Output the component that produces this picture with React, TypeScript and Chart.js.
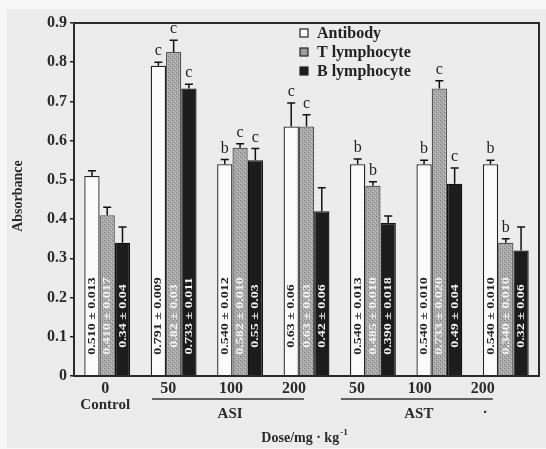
import React, { useEffect, useRef } from "react";
import { Chart, registerables } from "chart.js";
Chart.register(...registerables);

const categories = ["0", "50", "100", "200", "50", "100", "200"];
const seriesNames = ["Antibody", "T lymphocyte", "B lymphocyte"];
const antibody = [0.51, 0.791, 0.54, 0.636, 0.54, 0.54, 0.54];
const tCell = [0.41, 0.826, 0.582, 0.636, 0.485, 0.733, 0.34];
const bCell = [0.34, 0.733, 0.55, 0.42, 0.39, 0.49, 0.32];
const antibodyErr = [0.013, 0.009, 0.012, 0.06, 0.013, 0.01, 0.01];
const tCellErr = [0.02, 0.03, 0.01, 0.03, 0.01, 0.02, 0.01];
const bCellErr = [0.04, 0.011, 0.03, 0.06, 0.018, 0.04, 0.06];
const antibodyLabels = ["0.510 ± 0.013", "0.791 ± 0.009", "0.540 ± 0.012", "0.63 ± 0.06", "0.540 ± 0.013", "0.540 ± 0.010", "0.540 ± 0.010"];
const tCellLabels = ["0.410 ± 0.017", "0.82 ± 0.03", "0.582 ± 0.010", "0.63 ± 0.03", "0.485 ± 0.010", "0.733 ± 0.020", "0.340 ± 0.010"];
const bCellLabels = ["0.34 ± 0.04", "0.733 ± 0.011", "0.55 ± 0.03", "0.42 ± 0.06", "0.390 ± 0.018", "0.49 ± 0.04", "0.32 ± 0.06"];
const antibodyLetters = ["", "c", "b", "c", "b", "b", "b"];
const tCellLetters = ["", "c", "c", "c", "b", "c", "b"];
const bCellLetters = ["", "c", "c", "", "", "c", ""];
const groupLabels = [
  { text: "Control", from: 0, to: 0, line: false },
  { text: "ASI", from: 1, to: 3, line: true },
  { text: "AST", from: 4, to: 6, line: true },
];
const yTitle = "Absorbance";
const xTitle = "Dose/mg · kg";
const xTitleSup = "-1";

const values = [antibody, tCell, bCell];
const errors = [antibodyErr, tCellErr, bCellErr];
const barLabels = [antibodyLabels, tCellLabels, bCellLabels];
const letters = [antibodyLetters, tCellLetters, bCellLetters];

const SERIF = '"Liberation Serif", "DejaVu Serif", serif';

function makePattern(): CanvasPattern | string {
  const c = document.createElement("canvas");
  c.width = 4;
  c.height = 4;
  const g = c.getContext("2d");
  if (!g) return "#a0a0a0";
  g.fillStyle = "#a9a9a9";
  g.fillRect(0, 0, 4, 4);
  g.fillStyle = "#7c7c7c";
  g.fillRect(0, 0, 1, 1);
  g.fillRect(2, 2, 1, 1);
  g.fillStyle = "#c4c4c4";
  g.fillRect(1, 3, 1, 1);
  g.fillRect(3, 1, 1, 1);
  const p = g.createPattern(c, "repeat");
  return p || "#a0a0a0";
}

const fills = ["#fbfbfb", "", "#1c1c1c"];
const borders = ["#222", "#555", "#111"];
const textColors = ["#222", "#f4f4f4", "#f4f4f4"];

const customPlugin = {
  id: "custom",
  beforeDraw(chart: any) {
    const ctx = chart.ctx;
    ctx.save();
    ctx.fillStyle = "#f7f7f7";
    ctx.fillRect(0, 0, chart.width, chart.height);
    ctx.fillStyle = "#ececec";
    ctx.fillRect(7, 9, chart.width - 7, chart.height - 10);
    ctx.restore();
  },
  afterDatasetsDraw(chart: any) {
    const ctx = chart.ctx;
    const a = chart.chartArea;
    const x = chart.scales.x;
    const y = chart.scales.y;
    ctx.save();
    values.forEach((vals, di) => {
      const meta = chart.getDatasetMeta(di);
      meta.data.forEach((el: any, i: number) => {
        const v = vals[i];
        const e = errors[di][i];
        const xp = el.x;
        const yv = y.getPixelForValue(v);
        const yt = y.getPixelForValue(v + e);
        ctx.strokeStyle = "#111";
        ctx.lineWidth = 1.5;
        ctx.beginPath();
        ctx.moveTo(xp, yv);
        ctx.lineTo(xp, yt);
        ctx.moveTo(xp - 4, yt);
        ctx.lineTo(xp + 4, yt);
        ctx.stroke();
        const L = letters[di][i];
        if (L) {
          ctx.fillStyle = "#222";
          ctx.font = `16px ${SERIF}`;
          ctx.textAlign = "center";
          ctx.textBaseline = "bottom";
          ctx.fillText(L, xp, yt - 3);
        }
        const s = barLabels[di][i];
        ctx.save();
        ctx.translate(xp + 0.5, a.bottom - 60);
        ctx.rotate(-Math.PI / 2);
        ctx.scale(1.4, 1);
        ctx.fillStyle = textColors[di];
        ctx.font = `bold 10px ${SERIF}`;
        ctx.textAlign = "center";
        ctx.textBaseline = "middle";
        ctx.fillText(s, 0, 0);
        ctx.restore();
      });
    });
    ctx.strokeStyle = "#2a2a2a";
    ctx.lineWidth = 2;
    ctx.strokeRect(a.left, a.top, a.right - a.left, a.bottom - a.top);
    const lx = 300;
    const ly = [33, 52, 71];
    seriesNames.forEach((n, i) => {
      ctx.fillStyle = i === 1 ? "#9a9a9a" : fills[i];
      ctx.fillRect(lx, ly[i] - 4, 8, 8);
      ctx.strokeStyle = "#222";
      ctx.lineWidth = 1.2;
      ctx.strokeRect(lx, ly[i] - 4, 8, 8);
      ctx.fillStyle = "#222";
      ctx.font = `bold 16px ${SERIF}`;
      ctx.textAlign = "left";
      ctx.textBaseline = "middle";
      ctx.fillText(n, lx + 17, ly[i] + 1);
    });
    const off = (i: number) => -2 - 3.5 * i;
    ctx.fillStyle = "#2a2a2a";
    ctx.font = `bold 16px ${SERIF}`;
    ctx.textAlign = "center";
    ctx.textBaseline = "middle";
    categories.forEach((c, i) => {
      ctx.fillText(c, x.getPixelForValue(i) + off(i), 389);
    });
    groupLabels.forEach((g) => {
      const x0 = x.getPixelForValue(g.from) + off(g.from);
      const x1 = x.getPixelForValue(g.to) + off(g.to);
      if (g.line) {
        ctx.strokeStyle = "#333";
        ctx.lineWidth = 1.5;
        ctx.beginPath();
        ctx.moveTo(x0 - 16, 399);
        ctx.lineTo(x1 + 10, 399);
        ctx.stroke();
        ctx.fillStyle = "#2a2a2a";
        ctx.font = `bold 15px ${SERIF}`;
        ctx.fillText(g.text, (x0 + x1) / 2 - 1, 414);
      } else {
        ctx.fillStyle = "#2a2a2a";
        ctx.font = `bold 15px ${SERIF}`;
        ctx.fillText(g.text, x0, 405);
      }
    });
    ctx.fillText(".", 485, 409);
    ctx.save();
    ctx.translate(18, 196);
    ctx.rotate(-Math.PI / 2);
    ctx.font = `bold 14px ${SERIF}`;
    ctx.textAlign = "center";
    ctx.fillText(yTitle, 0, 0);
    ctx.restore();
    ctx.font = `bold 14px ${SERIF}`;
    const w1 = ctx.measureText(xTitle).width;
    ctx.font = `bold 9px ${SERIF}`;
    const w2 = ctx.measureText(xTitleSup).width;
    const sx = 304 - (w1 + w2) / 2;
    ctx.textAlign = "left";
    ctx.font = `bold 14px ${SERIF}`;
    ctx.fillText(xTitle, sx, 438);
    ctx.font = `bold 9px ${SERIF}`;
    ctx.fillText(xTitleSup, sx + w1 + 1, 433);
    ctx.restore();
  },
};

export default function App() {
  const ref = useRef<HTMLCanvasElement>(null);
  useEffect(() => {
    if (!ref.current) return;
    const pattern = makePattern();
    const chart = new Chart(ref.current, {
      type: "bar",
      data: {
        labels: categories,
        datasets: values.map((vals, i) => ({
          label: seriesNames[i],
          data: vals,
          backgroundColor: i === 1 ? (pattern as any) : fills[i],
          borderColor: borders[i],
          borderWidth: 1.3,
          barPercentage: 1,
          categoryPercentage: 0.69,
        })),
      },
      options: {
        animation: false,
        responsive: false,
        devicePixelRatio: 1,
        layout: { padding: { left: 0, top: 23, right: 7, bottom: 0 } },
        plugins: { legend: { display: false }, tooltip: { enabled: false } },
        scales: {
          x: {
            grid: { display: false },
            border: { display: false },
            ticks: { display: false },
            afterFit: (s: any) => {
              s.height = 73;
            },
          },
          y: {
            min: 0,
            max: 0.9,
            border: { display: false },
            grid: { drawOnChartArea: false, drawTicks: true, tickLength: 4, color: "#222", lineWidth: 1.5 },
            ticks: {
              stepSize: 0.1,
              padding: 3,
              color: "#2a2a2a",
              font: { family: SERIF, size: 16, weight: "bold" },
              callback: (v: any) => (Number(v) === 0 ? "0" : Number(v).toFixed(1)),
            },
            afterFit: (s: any) => {
              s.width = 74;
            },
          },
        },
      },
      plugins: [customPlugin],
    });
    return () => chart.destroy();
  }, []);
  return (
    <div style={{ position: "fixed", left: 0, top: 0, width: 546, height: 449 }}>
      <canvas ref={ref} width={546} height={449} style={{ display: "block" }} />
    </div>
  );
}
